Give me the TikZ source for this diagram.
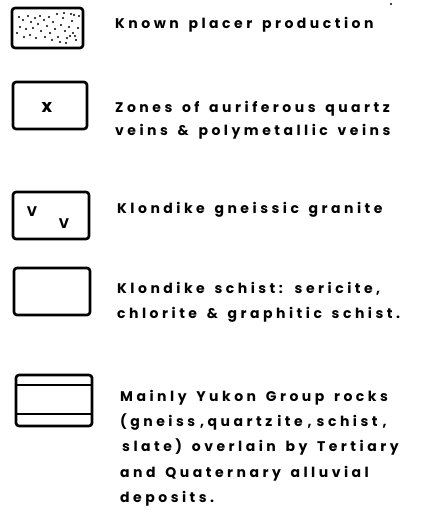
\documentclass[tikz,border=0pt]{standalone}
\usepackage{fontspec}
\setmainfont{Poppins}[LetterSpace=25,WordSpace=1.5]
\begin{document}
\begin{tikzpicture}[x=1pt,y=-1pt,
  legbox/.style={draw=black,line width=2.6pt,rounded corners=3pt},
  lbl/.style={anchor=base west,inner sep=0pt,font=\fontsize{14}{16}\selectfont\bfseries},
  sym/.style={inner sep=0pt,font=\fontsize{14}{16}\selectfont\bfseries}]
\useasboundingbox (0,0) rectangle (423,528);
% box 1: placer production (stipple)
\draw[legbox] (12,8) rectangle (83,48);
\foreach \px/\py in {19/17, 23/20, 28/16, 31/22, 35/18, 20/27, 26/29, 33/28, 38/24, 41/31, 44/20, 47/26, 50/33, 53/22, 55/29, 58/37, 61/25, 63/18, 65/31, 67/38, 69/27, 72/21, 73/33, 76/40, 78/28, 79/16, 71/14, 74/15, 24/37, 30/35, 36/38, 45/37, 52/40, 60/42, 66/43, 17/33, 40/16, 57/14, 64/13, 49/17, 70/36, 75/36}
  \fill (\px,\py) circle (1.1pt);
\node[lbl] (t1) at (115,28) {Known placer production};
% box 2: quartz veins
\draw[legbox] (13,82) rectangle (87,129);
\node[sym,font=\fontsize{18}{18}\selectfont\bfseries] (x2) at (47,107) {x};
\node[lbl] (t2a) at (115,112) {Zones of auriferous quartz};
\node[lbl] (t2b) at (115,135) {veins \& polymetallic veins};
% box 3: gneissic granite
\draw[legbox] (13,192) rectangle (89,239);
\node[sym] (v3a) at (32,212) {V};
\node[sym] (v3b) at (64,224) {V};
\node[lbl] (t3) at (117,213) {Klondike gneissic granite};
% box 4: schist
\draw[legbox] (14,268) rectangle (90,315);
\node[lbl] (t4a) at (117,293) {Klondike schist: sericite,};
\node[lbl] (t4b) at (117,318) {chlorite \& graphitic schist.};
% box 5: Yukon group
\draw[legbox] (16,375) rectangle (92,426);
\draw[line width=2pt] (16,385) -- (92,385);
\draw[line width=2pt] (16,414) -- (92,414);
\node[lbl] (t5a) at (120,401) {Mainly Yukon Group rocks};
\node[lbl] (t5b) at (120,426) {(gneiss\hspace{5pt},quartz\hspace{5pt}ite\hspace{5pt},\hspace{5pt}schist\hspace{5pt},};
\node[lbl] (t5c) at (122,451) {slate) overlain by Tertiary};
\node[lbl] (t5d) at (120,477) {and Quaternary alluvial};
\node[lbl] (t5e) at (120,502) {deposits.};
\fill (391,4) circle (1.2pt);
\end{tikzpicture}
\end{document}
